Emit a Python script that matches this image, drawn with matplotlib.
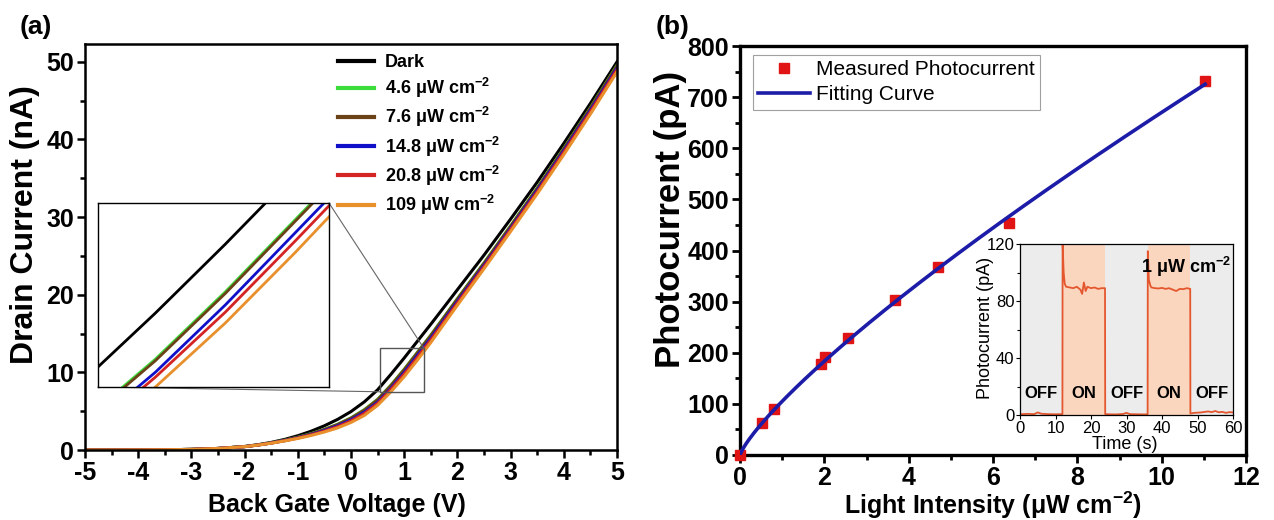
import matplotlib
matplotlib.use("Agg")
import matplotlib.pyplot as plt
import numpy as np
from matplotlib.patches import Rectangle, ConnectionPatch
from matplotlib.ticker import MultipleLocator

plt.rcParams['font.family'] = ['Liberation Sans', 'DejaVu Sans']
plt.rcParams['mathtext.fontset'] = 'custom'
plt.rcParams['mathtext.rm'] = 'Liberation Sans'
plt.rcParams['mathtext.bf'] = 'Liberation Sans:bold'
plt.rcParams['mathtext.it'] = 'Liberation Sans:italic'
plt.rcParams['axes.unicode_minus'] = False

# ---- (a) transfer curves: back-gate voltage (V) vs drain current (nA) ----
vg = [-5, -4.5, -4, -3.5, -3, -2.5, -2, -1.75, -1.5, -1.25, -1, -0.75, -0.5, -0.25, 0,
      0.25, 0.5, 0.75, 1, 1.25, 1.5, 1.75, 2, 2.5, 3, 3.5, 4, 4.5, 5]
id_dark = [0, 0, 0.01, 0.03, 0.08, 0.2, 0.45, 0.68, 0.98, 1.36, 1.84, 2.42, 3.12, 3.95, 4.95,
           6.2, 7.75, 9.75, 11.85, 14.03, 16.2, 18.42, 20.65, 25.1, 29.75, 34.5, 39.5, 44.65, 50.0]
id_4p6 = [0, 0, 0.01, 0.03, 0.08, 0.2, 0.44, 0.65, 0.92, 1.25, 1.64, 2.11, 2.66, 3.32, 4.14,
          5.19, 6.53, 8.35, 10.4, 12.6, 14.8, 17.15, 19.5, 24.1, 28.88, 33.75, 38.85, 44.1, 49.55]
id_7p6 = [0, 0, 0.01, 0.03, 0.08, 0.2, 0.44, 0.65, 0.92, 1.24, 1.63, 2.09, 2.64, 3.29, 4.1,
          5.14, 6.48, 8.3, 10.35, 12.55, 14.75, 17.1, 19.45, 24.05, 28.83, 33.7, 38.8, 44.05, 49.5]
id_14p8 = [0, 0, 0.01, 0.03, 0.08, 0.2, 0.43, 0.64, 0.9, 1.21, 1.57, 2.0, 2.52, 3.12, 3.89,
           4.87, 6.15, 7.95, 10.0, 12.2, 14.4, 16.77, 19.13, 23.77, 28.55, 33.45, 38.55, 43.77, 49.2]
id_20p8 = [0, 0, 0.01, 0.03, 0.08, 0.2, 0.43, 0.64, 0.89, 1.19, 1.54, 1.95, 2.43, 3.0, 3.75,
           4.7, 6.0, 7.8, 9.78, 11.95, 14.17, 16.55, 18.93, 23.6, 28.4, 33.25, 38.35, 43.57, 49.0]
id_109 = [0, 0, 0.01, 0.03, 0.08, 0.2, 0.43, 0.63, 0.88, 1.16, 1.49, 1.87, 2.32, 2.85, 3.55,
          4.45, 5.75, 7.5, 9.45, 11.6, 13.85, 16.25, 18.65, 23.35, 28.15, 33.0, 38.05, 43.27, 48.7]

series_labels = ['Dark', '4.6', '7.6', '14.8', '20.8', '109']
series_values = [id_dark, id_4p6, id_7p6, id_14p8, id_20p8, id_109]
series_colors = ['#000000', '#3ddc3d', '#6b4218', '#1010c8', '#d42424', '#e8902c']

# zoomed window shown in the inset (V, nA)
zoom_x = [0.545, 1.37]
zoom_y = [7.5, 13.1]

# ---- (b) photocurrent vs light intensity ----
intensity = [0, 0.51, 0.80, 1.92, 2.01, 2.56, 3.67, 4.70, 6.38, 11.03]
photocurrent = [0, 62, 90, 178, 191, 228, 304, 368, 454, 732]
fit_prefactor = 105.0
fit_exponent = 0.805

# ---- (b) inset: time response at 1 uW cm^-2 ----
t_s = [0, 2, 4, 5, 6, 8, 10, 11.95, 12.0, 12.3, 12.6, 13, 14, 15, 16, 17, 17.5, 18, 18.5, 19, 20, 21, 22, 23,
       23.95, 24.0, 25, 27, 29, 30, 31, 33, 35, 35.95, 36.0, 36.3, 36.7, 37, 38, 39, 40, 41, 42, 43, 44, 45, 46,
       47, 47.95, 48.0, 49, 51, 53, 54, 55, 56, 57, 58, 59, 60]
i_pa = [0.5, 0.8, 0.6, 1.8, 0.9, 0.6, 0.5, 0.6, 120, 100, 92, 90, 89.5, 89, 90, 88, 85, 93, 87, 90, 89, 89.5,
        88.5, 89, 89, 0.6, 0.5, 0.4, 0.7, 1.5, 0.6, 0.5, 0.4, 0.5, 115, 95, 91, 89.5, 89, 88.8, 89.2, 88.5, 89,
        88, 87, 88.5, 88.3, 89, 88.5, 1.0, 1.5, 1.8, 2.5, 2.0, 2.8, 1.9, 2.2, 1.5, 2.0, 1.8]
state_edges = [0, 12, 24, 36, 48, 60]
state_names = ['OFF', 'ON', 'OFF', 'ON', 'OFF']

W, H = 1274, 520
fig = plt.figure(figsize=(W / 100, H / 100), dpi=100)


def px_axes(left, top, right, bottom):
    return fig.add_axes([left / W, (H - bottom) / H, (right - left) / W, (bottom - top) / H])


def style_ticks(ax, size, lw, major_len, minor_len):
    ax.tick_params(which='both', direction='out', top=False, right=False, width=lw)
    ax.tick_params(which='major', length=major_len, labelsize=size, pad=2)
    ax.tick_params(which='minor', length=minor_len)


# ================= panel (a) =================
ax_a = px_axes(85, 44, 617, 450)
for lab, vals, col in zip(series_labels, series_values, series_colors):
    text = lab if lab == 'Dark' else lab + r' μW cm$^{\mathbf{-2}}$'
    ax_a.plot(vg, vals, color=col, lw=2.2, label=text)
ax_a.set_xlim(-5, 5)
ax_a.set_ylim(0, 52.3)
ax_a.xaxis.set_major_locator(MultipleLocator(1))
ax_a.xaxis.set_minor_locator(MultipleLocator(0.5))
ax_a.yaxis.set_major_locator(MultipleLocator(10))
ax_a.yaxis.set_minor_locator(MultipleLocator(5))
for s in ax_a.spines.values():
    s.set_linewidth(1.8)
style_ticks(ax_a, 18, 1.8, 6, 3.5)
for t in ax_a.get_xticklabels() + ax_a.get_yticklabels():
    t.set_fontweight('bold')
ax_a.set_xlabel('Back Gate Voltage (V)', fontsize=18, fontweight='bold')
ax_a.set_ylabel('Drain Current (nA)', fontsize=23, fontweight='bold')
ax_a.xaxis.set_label_coords(0.474, -0.105)
ax_a.yaxis.set_label_coords(-0.085, 0.555)
leg_a = ax_a.legend(loc='upper left', bbox_to_anchor=(0.476, 0.975), frameon=False,
                    prop={'size': 13, 'weight': 'bold'}, handlelength=2.0, handletextpad=0.6,
                    labelspacing=0.28, borderpad=0, borderaxespad=0)
for h in leg_a.get_lines():
    h.set_linewidth(3.0)

# zoom window and inset
ax_a.add_patch(Rectangle((zoom_x[0], zoom_y[0]), zoom_x[1] - zoom_x[0], zoom_y[1] - zoom_y[0],
                         fill=False, ec='#555555', lw=1.0, zorder=5))
ins_a = px_axes(98, 203, 329, 387)
ins_a.set_zorder(4)
ins_a.set_facecolor('white')
for lab, vals, col in zip(series_labels, series_values, series_colors):
    ins_a.plot(vg, vals, color=col, lw=2.0)
ins_a.set_xlim(*zoom_x)
ins_a.set_ylim(*zoom_y)
ins_a.set_xticks([])
ins_a.set_yticks([])
for s in ins_a.spines.values():
    s.set_linewidth(1.0)
for ins_pt, main_pt in [((1, 1), (zoom_x[1], zoom_y[1])), ((0, 0), (zoom_x[0], zoom_y[0]))]:
    con = ConnectionPatch(xyA=ins_pt, coordsA=ins_a.transAxes, xyB=main_pt, coordsB=ax_a.transData,
                          color='#666666', lw=0.8)
    fig.add_artist(con)

fig.text(20 / W, 1 - 27 / H, '(a)', fontsize=19, fontweight='bold', va='center', ha='left')

# ================= panel (b) =================
ax_b = px_axes(740, 46, 1246, 455)
ax_b.plot(intensity, photocurrent, 's', color='#e01414', ms=6.5, mec='#e01414',
          label='Measured Photocurrent', zorder=3, clip_on=False)
p_fit = np.linspace(0, intensity[-1], 300)
ax_b.plot(p_fit, fit_prefactor * p_fit ** fit_exponent, color='#1c1ca8', lw=2.6,
          label='Fitting Curve', zorder=4)
ax_b.set_xlim(0, 12)
ax_b.set_ylim(0, 800)
ax_b.xaxis.set_major_locator(MultipleLocator(2))
ax_b.xaxis.set_minor_locator(MultipleLocator(1))
ax_b.yaxis.set_major_locator(MultipleLocator(100))
ax_b.yaxis.set_minor_locator(MultipleLocator(50))
for s in ax_b.spines.values():
    s.set_linewidth(2.4)
style_ticks(ax_b, 18, 2.0, 6, 3.5)
for t in ax_b.get_xticklabels() + ax_b.get_yticklabels():
    t.set_fontweight('bold')
ax_b.set_xlabel(r'Light Intensity (μW cm$^{\mathbf{-2}}$)', fontsize=18, fontweight='bold')
ax_b.set_ylabel('Photocurrent (pA)', fontsize=25, fontweight='bold')
ax_b.xaxis.set_label_coords(0.5, -0.085)
ax_b.yaxis.set_label_coords(-0.105, 0.575)
leg_b = ax_b.legend(loc='upper left', bbox_to_anchor=(0.026, 0.978), fontsize=15, frameon=True,
                    fancybox=False, edgecolor='#888888', handlelength=2.5, handletextpad=0.25,
                    labelspacing=0.3, borderpad=0.25, borderaxespad=0, numpoints=1)
leg_b.get_frame().set_linewidth(0.8)

# inset: on/off response
ins_b = px_axes(1020, 244, 1233, 415)
for k, name in enumerate(state_names):
    band_col = '#fbd6bf' if name == 'ON' else '#ececec'
    ins_b.axvspan(state_edges[k], state_edges[k + 1], color=band_col, lw=0, zorder=0)
    ins_b.text((state_edges[k] + state_edges[k + 1]) / 2, 15, name, ha='center', va='center',
               fontsize=12, fontweight='bold', zorder=3)
ins_b.plot(t_s, i_pa, color='#e4572e', lw=1.3, zorder=2)
ins_b.text(59.5, 104, r'1 μW cm$^{\mathbf{-2}}$', ha='right', va='center', fontsize=13, fontweight='bold')
ins_b.set_xlim(0, 60)
ins_b.set_ylim(0, 120)
ins_b.xaxis.set_major_locator(MultipleLocator(10))
ins_b.yaxis.set_major_locator(MultipleLocator(40))
ins_b.yaxis.set_minor_locator(MultipleLocator(20))
for s in ins_b.spines.values():
    s.set_linewidth(0.9)
ins_b.tick_params(which='both', direction='out', top=False, right=False, width=0.8)
ins_b.tick_params(which='major', length=3, labelsize=12, pad=1)
ins_b.tick_params(which='minor', length=2)
ins_b.set_xlabel('Time (s)', fontsize=13, labelpad=0)
ins_b.set_ylabel('Photocurrent (pA)', fontsize=13, labelpad=1)
ins_b.xaxis.set_label_coords(0.49, -0.12)
ins_b.yaxis.set_label_coords(-0.12, 0.51)

fig.text(656 / W, 1 - 27 / H, '(b)', fontsize=19, fontweight='bold', va='center', ha='left')

fig.savefig('out.png', dpi=100)
